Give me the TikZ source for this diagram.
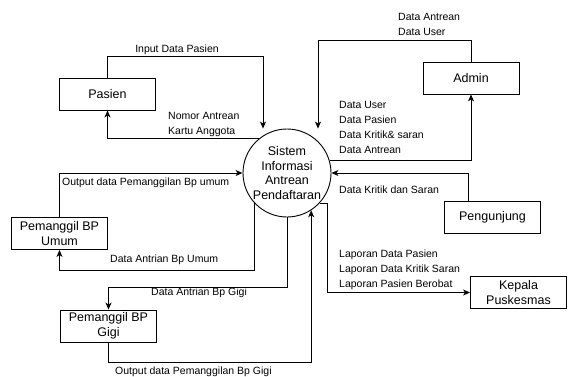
\documentclass[tikz,border=0pt]{standalone}
\usepackage{fontspec}
\setmainfont{Liberation Sans}
\usetikzlibrary{arrows.meta,calc}

\begin{document}
\begin{tikzpicture}[x=1pt,y=-1pt,
  entity/.style={draw,line width=0.9pt,minimum width=96pt,minimum height=32pt,
    inner sep=1pt,align=center,font=\fontsize{12.5}{14.5}\selectfont},
  proses/.style={draw,circle,line width=0.9pt,minimum size=88pt,inner sep=0pt,
    align=center,font=\fontsize{12.5}{14.5}\selectfont},
  flow/.style={line width=0.9pt,-{Stealth[length=7pt,width=6pt,inset=2pt]}},
  lbl/.style={anchor=west,inner sep=0pt,align=left,font=\fontsize{10.5}{15}\selectfont}]
 \useasboundingbox (0,0) rectangle (568,376);

 % proses utama
 \node[proses] (sistem) at (287,173) {Sistem\\Informasi\\Antrean\\Pendaftaran};

 % entitas luar
 \node[entity] (pasien) at (107.5,94) {Pasien};
 \node[entity] (admin) at (471,78) {Admin};
 \node[entity] (pengunjung) at (492.5,217.5) {Pengunjung};
 \node[entity] (kepala) at (518.5,292.5) {Kepala\\Puskesmas};
 \node[entity] (umum) at (59.5,233.5) {Pemanggil BP\\Umum};
 \node[entity] (gigi) at (108.5,326) {Pemanggil BP\\Gigi};

 % aliran data
 \draw[flow] (pasien.north) -- ++(0,-21) -| ($(sistem.north)+(-24,0)$);
 \draw[flow] (sistem.129) -| (pasien.south);
 \draw[flow] (admin.north) -- ++(0,-21) -| ($(sistem.north)+(31,0)$);
 \draw[flow] (sistem.17) -| (admin.south);
 \draw[flow] ($(pengunjung.north)+(-24,0)$) |- (sistem.east);
 \draw[flow] (sistem.-43) -- ++(8,0) |- (kepala.west);
 \draw[flow] (umum.north) |- (sistem.west);
 \draw[flow] (sistem.-137) -- ++(0,67) -| (umum.south);
 \draw[flow] (sistem.south) -- ++(0,70) -| (gigi.north);
 \draw[flow] (gigi.south) -- ++(0,20) -| (sistem.-57);

 % label aliran
 \node[lbl,anchor=center] (lpasien) at (177,50) {Input Data Pasien};
 \node[lbl] (lnomor) at (168,124) {Nomor Antrean\\Kartu Anggota};
 \node[lbl] (ladmin1) at (398,24) {Data Antrean\\Data User};
 \node[lbl] (ladmin2) at (339,127.5) {Data User\\Data Pasien\\Data Kritik\& saran\\Data Antrean};
 \node[lbl] (lkritik) at (339,190) {Data Kritik dan Saran};
 \node[lbl] (llapor) at (339,270) {Laporan Data Pasien\\Laporan Data Kritik Saran\\Laporan Pasien Berobat};
 \node[lbl] (lumum1) at (62,183) {Output data Pemanggilan Bp umum};
 \node[lbl] (lumum2) at (110,260) {Data Antrian Bp Umum};
 \node[lbl] (lgigi1) at (151,293) {Data Antrian Bp Gigi};
 \node[lbl] (lgigi2) at (115,372) {Output data Pemanggilan Bp Gigi};
\end{tikzpicture}
\end{document}
